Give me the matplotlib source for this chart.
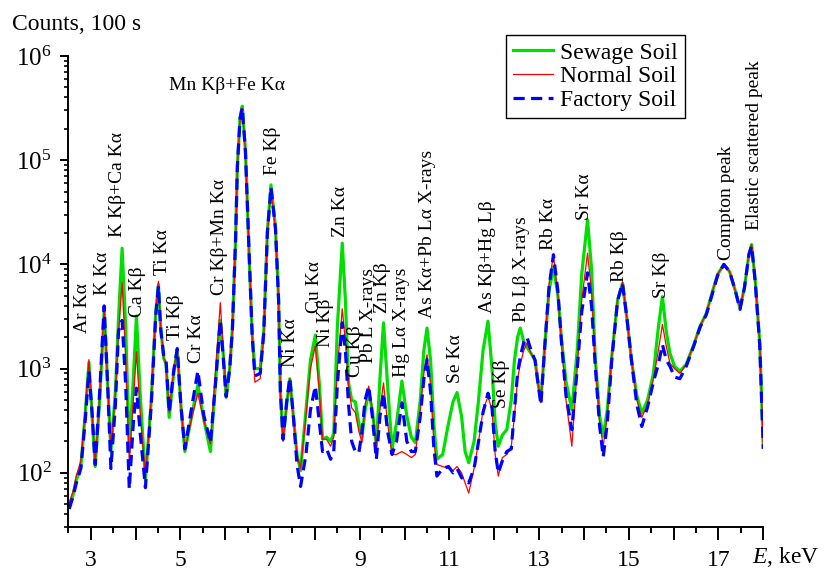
import matplotlib
matplotlib.use("Agg")
import matplotlib.pyplot as plt
from matplotlib.ticker import MultipleLocator, FuncFormatter, LogLocator, NullFormatter

plt.rcParams["font.family"] = "Liberation Serif"
plt.rcParams["mathtext.fontset"] = "custom"
plt.rcParams["mathtext.rm"] = "Liberation Serif"
plt.rcParams["mathtext.it"] = "Liberation Serif:italic"

# energy grid (keV)
energy = [2.52, 2.60, 2.68, 2.78, 2.88, 2.96, 3.03, 3.10, 3.20, 3.30,
          3.38, 3.45, 3.55, 3.62, 3.70, 3.78, 3.86, 3.95, 4.02, 4.10,
          4.22, 4.35, 4.45, 4.51, 4.56, 4.63, 4.68, 4.75, 4.85, 4.93,
          5.01, 5.10, 5.25, 5.39, 5.52, 5.67, 5.78, 5.89, 5.96, 6.02,
          6.10, 6.16, 6.23, 6.27, 6.33, 6.38, 6.45, 6.49, 6.53, 6.60,
          6.66, 6.78, 6.86, 6.94, 7.02, 7.12, 7.19, 7.23, 7.29, 7.37,
          7.44, 7.52, 7.60, 7.68, 7.80, 7.90, 8.01, 8.10, 8.17, 8.26,
          8.35, 8.42, 8.50, 8.61, 8.68, 8.75, 8.82, 8.90, 8.98, 9.05,
          9.12, 9.20, 9.28, 9.37, 9.45, 9.53, 9.62, 9.72, 9.82, 9.94,
          10.05, 10.15, 10.24, 10.35, 10.43, 10.50, 10.58, 10.65, 10.72, 10.85,
          10.98, 11.08, 11.17, 11.27, 11.35, 11.43, 11.55, 11.65, 11.75, 11.86,
          11.95, 12.02, 12.09, 12.18, 12.28, 12.38, 12.45, 12.52, 12.58, 12.66,
          12.73, 12.82, 12.91, 12.98, 13.04, 13.12, 13.22, 13.32, 13.42, 13.50,
          13.60, 13.73, 13.85, 13.95, 14.08, 14.17, 14.25, 14.35, 14.43, 14.52,
          14.62, 14.75, 14.86, 14.96, 15.06, 15.18, 15.29, 15.42, 15.55, 15.66,
          15.75, 15.84, 15.92, 16.02, 16.14, 16.28, 16.45, 16.59, 16.73, 16.85,
          16.98, 17.12, 17.25, 17.38, 17.48, 17.58, 17.68, 17.74, 17.82, 17.92,
          18.00]

sewage = [48, 60, 85, 115, 380, 1150, 350, 115, 500, 3600,
          700, 160, 600, 3000, 14300, 2500, 160, 800, 3200, 600,
          85, 500, 3500, 6400, 2500, 1250, 1100, 340, 900, 1550,
          450, 160, 350, 700, 330, 160, 700, 2900, 1300, 530,
          1000, 2400, 17000, 87000, 255000, 330000, 126000, 42000, 13000, 2200,
          1000, 1000, 2300, 21000, 58000, 23000, 4600, 600, 210, 450,
          800, 350, 150, 105, 400, 1200, 2100, 700, 210, 220,
          200, 240, 2500, 16000, 4500, 730, 500, 480, 300, 220,
          400, 600, 400, 180, 800, 2750, 700, 170, 300, 760,
          350, 220, 195, 500, 1500, 2450, 1200, 300, 135, 150,
          300, 480, 590, 350, 160, 125, 200, 500, 1500, 2850,
          1000, 300, 180, 230, 260, 500, 1200, 2000, 2450, 1800,
          1600, 1400, 1200, 700, 500, 1500, 5500, 9500, 5000, 1900,
          750, 404, 1500, 8000, 26800, 9000, 1300, 350, 225, 400,
          1300, 4500, 6600, 3000, 1200, 550, 375, 500, 900, 2500,
          4900, 2200, 1400, 1050, 940, 1100, 1700, 2550, 3400, 5200,
          8000, 10000, 8500, 5500, 3800, 6000, 12500, 15500, 7000, 1800,
          175]

normal = [52, 65, 95, 130, 400, 1220, 400, 120, 550, 3900,
          700, 160, 600, 2200, 6700, 1300, 125, 500, 1450, 400,
          90, 500, 3500, 6900, 2500, 1250, 1150, 380, 950, 1600,
          450, 165, 330, 580, 320, 190, 900, 4300, 1400, 650,
          1000, 2400, 16000, 85000, 240000, 315000, 120000, 40000, 12500, 2000,
          740, 800, 2100, 19000, 54000, 21000, 4400, 580, 200, 450,
          800, 350, 150, 110, 350, 1000, 1650, 600, 210, 210,
          180, 220, 1000, 3750, 1800, 700, 420, 380, 250, 195,
          450, 680, 400, 180, 400, 730, 300, 150, 150, 160,
          150, 140, 150, 400, 900, 1360, 700, 200, 120, 115,
          110, 105, 115, 100, 80, 64, 110, 200, 400, 540,
          400, 150, 93, 140, 150, 180, 350, 800, 1100, 1500,
          1760, 1400, 1200, 700, 470, 1500, 6500, 12400, 5000, 1760,
          500, 180, 1000, 4500, 12800, 5500, 1216, 300, 180, 350,
          1300, 4700, 6700, 3000, 1216, 500, 340, 450, 800, 1500,
          2650, 1600, 1120, 1000, 900, 1100, 1700, 2550, 3400, 5200,
          8000, 10000, 8500, 5500, 3800, 6000, 13000, 15500, 7000, 1800,
          175]

factory = [45, 58, 80, 110, 330, 950, 380, 120, 600, 4000,
           650, 110, 450, 2300, 2900, 700, 70, 300, 650, 250,
           72, 450, 3200, 6200, 2400, 1300, 1200, 380, 950, 1550,
           450, 170, 420, 950, 360, 195, 700, 2900, 1200, 540,
           1000, 2400, 17000, 86000, 250000, 320000, 122000, 41000, 13000, 2100,
           850, 900, 2200, 20000, 55000, 22000, 4500, 600, 210, 480,
           820, 350, 120, 74, 150, 400, 680, 300, 160, 170,
           135, 160, 700, 2750, 1500, 450, 200, 160, 155, 250,
           500, 680, 350, 135, 350, 580, 250, 150, 200, 470,
           200, 160, 160, 350, 800, 1220, 600, 180, 93, 110,
           115, 100, 110, 90, 85, 80, 110, 200, 380, 580,
           420, 160, 100, 130, 160, 170, 400, 900, 1300, 1800,
           2000, 1500, 1200, 700, 450, 1500, 6000, 12400, 5500, 1760,
           550, 259, 1000, 3500, 8300, 4000, 1100, 280, 142, 300,
           1200, 4500, 6600, 3000, 1200, 450, 279, 430, 750, 1100,
           1700, 1200, 1050, 830, 800, 1050, 1650, 2500, 3300, 5000,
           7800, 10000, 8500, 5500, 3700, 6000, 12500, 15000, 6800, 1700,
           170]

# peak labels: text, energy (keV), counts at the foot of the label
peak_labels = ["Ar K\u03b1", "K K\u03b1", "K K\u03b2+Ca K\u03b1", "Ca K\u03b2", "Ti K\u03b1",
               "Ti K\u03b2", "Cr K\u03b1", "Cr K\u03b2+Mn K\u03b1", "Fe K\u03b2", "Ni K\u03b1",
               "Cu K\u03b1", "Ni K\u03b2", "Zn K\u03b1", "Cu K\u03b2", "Pb L X-rays",
               "Zn K\u03b2", "Hg L\u03b1 X-rays", "As K\u03b1+Pb L\u03b1 X-rays", "Se K\u03b1",
               "As K\u03b2+Hg L\u03b2", "Se K\u03b2", "Pb L\u03b2 X-rays", "Rb K\u03b1",
               "Sr K\u03b1", "Rb K\u03b2", "Sr K\u03b2", "Compton peak", "Elastic scattered peak"]
label_e = [2.81, 3.26, 3.59, 4.05, 4.60, 4.89, 5.36, 5.88, 7.05, 7.45,
           7.99, 8.23, 8.57, 8.90, 9.20, 9.50, 9.94, 10.50, 11.13, 11.85,
           12.17, 12.61, 13.21, 14.02, 14.79, 15.72, 17.18, 17.81]
label_c = [2200, 5100, 18400, 3100, 7900, 1890, 1140, 5100, 72000, 1040,
           3430, 1620, 18400, 836, 1140, 3430, 836, 3080, 732, 3430,
           422, 2820, 13800, 26800, 6800, 4790, 11000, 21500]

fig = plt.figure(figsize=(8.27, 5.71), dpi=100)
ax = fig.add_axes([68.3 / 827, 43.7 / 571, 695 / 827, 471.3 / 571])

ax.plot(energy, sewage, color="#00e000", lw=2.3, label="Sewage Soil")
ax.plot(energy, normal, color="#ff0000", lw=0.9, label="Normal Soil")
ax.plot(energy, factory, color="#0000ff", lw=2.3, dashes=(3.5, 2), label="Factory Soil")

ax.set_yscale("log")
ax.set_xlim(2.5, 18)
ax.set_ylim(30, 1e6)

for s in ["top", "right"]:
    ax.spines[s].set_visible(False)
for s in ["left", "bottom"]:
    ax.spines[s].set_linewidth(1.4)

ax.xaxis.set_major_locator(MultipleLocator(1))
ax.xaxis.set_minor_locator(MultipleLocator(0.5))
ax.xaxis.set_major_formatter(FuncFormatter(lambda v, p: "%d" % v if int(round(v)) % 2 == 1 else ""))
ax.yaxis.set_major_locator(LogLocator(base=10))
ax.yaxis.set_minor_locator(LogLocator(base=10, subs=range(2, 10)))
ax.yaxis.set_minor_formatter(NullFormatter())
ax.yaxis.set_major_formatter(FuncFormatter(lambda v, p: r"$\mathregular{10^{%d}}$" % round(__import__("math").log10(v))))

ax.tick_params(axis="x", which="major", length=9, width=1.4, labelsize=17, pad=7)
ax.tick_params(axis="x", which="minor", length=4.5, width=1.4)
ax.tick_params(axis="y", which="major", length=6, width=1.4, labelsize=18, pad=6)
ax.tick_params(axis="y", which="minor", length=3, width=1.2)

for t, e, c in zip(peak_labels, label_e, label_c):
    ax.text(e, c, t, rotation=90, ha="center", va="bottom", fontsize=14)
ax.text(6.04, 5.2e5, "Mn K\u03b2+Fe K\u03b1", ha="center", va="center", fontsize=14)

fig.text(12 / 827, 1 - 25 / 571, "Counts, 100 s", fontsize=17, va="center", ha="left")
fig.text(752 / 827, 1 - 557 / 571, "$E$, keV", fontsize=17, va="center", ha="left")

ax.legend(loc="upper left", bbox_to_anchor=(506 / 827, 1 - 35 / 571), bbox_transform=fig.transFigure,
          fontsize=17, frameon=True, fancybox=False, edgecolor="black", framealpha=1,
          handlelength=1.7, handletextpad=0.3, labelspacing=0.1, borderpad=0.3, borderaxespad=0)

fig.savefig("out.png", dpi=100)
